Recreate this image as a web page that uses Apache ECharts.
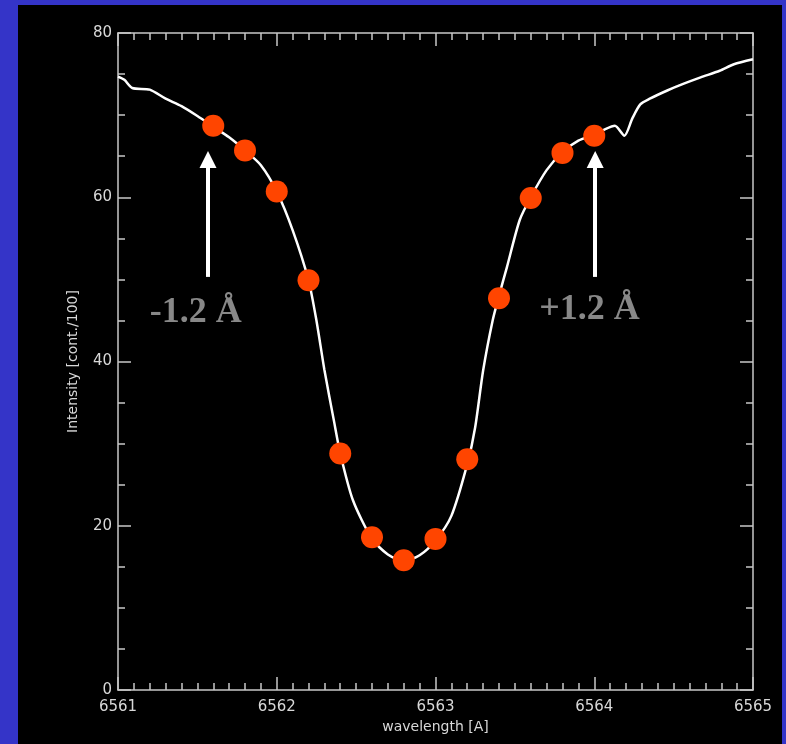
<!DOCTYPE html>
<html>
<head>
<meta charset="utf-8">
<script src="https://cdn.jsdelivr.net/npm/echarts@6/dist/echarts.min.js"></script>
<style>
  html, body { margin:0; padding:0; background:#3434c8; width:786px; height:744px; overflow:hidden; }
  #chart { position:absolute; left:18px; top:5px; width:764px; height:739px; background:#000; }
</style>
</head>
<body>
<div id="chart"></div>
<script>
// Profile line (wavelength in Å, intensity in cont./100)
var lineWavelength = [6561.00, 6561.04, 6561.09, 6561.20, 6561.30, 6561.40, 6561.50, 6561.60, 6561.70, 6561.80,
  6561.90, 6562.00, 6562.10, 6562.20, 6562.25, 6562.30, 6562.36, 6562.40, 6562.48, 6562.60,
  6562.70, 6562.80, 6562.90, 6563.00, 6563.10, 6563.20, 6563.25, 6563.30, 6563.36, 6563.40,
  6563.45, 6563.53, 6563.60, 6563.70, 6563.80, 6563.90, 6564.00, 6564.07, 6564.13, 6564.19,
  6564.24, 6564.29, 6564.35, 6564.46, 6564.56, 6564.67, 6564.79, 6564.88, 6565.00];
var lineIntensity = [74.7, 74.3, 73.3, 73.1, 72.0, 71.1, 69.9, 68.6, 67.3, 65.7,
  63.9, 60.7, 56.0, 49.9, 45.0, 39.0, 32.8, 28.8, 23.1, 18.4,
  16.5, 15.7, 16.4, 18.2, 21.2, 27.5, 32.0, 38.9, 45.0, 48.0,
  51.5, 57.2, 60.0, 63.3, 65.5, 66.9, 67.6, 68.3, 68.7, 67.5,
  69.6, 71.3, 72.0, 73.0, 73.8, 74.6, 75.4, 76.2, 76.8];

// Sampled points
var dotWavelength = [6561.6, 6561.8, 6562.0, 6562.2, 6562.4, 6562.6, 6562.8, 6563.0, 6563.2, 6563.4, 6563.6, 6563.8, 6564.0];
var dotIntensity = [68.7, 65.7, 60.7, 49.9, 28.8, 18.6, 15.8, 18.4, 28.1, 47.7, 59.9, 65.4, 67.5];

// Annotations
var annotationLabels = ['-1.2 Å', '+1.2 Å'];
var annotationWavelength = [6561.567, 6564.006];

var xTickLabels = ['6561', '6562', '6563', '6564', '6565'];
var yTickLabels = ['0', '20', '40', '60', '80'];

var lineData = lineWavelength.map(function (w, i) { return [w, lineIntensity[i]]; });
var dotData = dotWavelength.map(function (w, i) { return [w, dotIntensity[i]]; });

var axisColor = '#c8c8c8';
var labelFont = { color: '#d8d8d8', fontFamily: 'DejaVu Sans', fontSize: 15 };
var nameFont = { color: '#d8d8d8', fontFamily: 'DejaVu Sans', fontSize: 14 };

function xAxisCfg(pos, showLabel) {
  return {
    type: 'value', position: pos, min: 6561, max: 6565, interval: 1,
    axisLine: { show: true, onZero: false, lineStyle: { color: axisColor, width: 1.5 } },
    axisTick: { show: true, inside: true, length: 13, lineStyle: { color: axisColor, width: 1.5 } },
    minorTick: { show: true, splitNumber: 10, length: 7, lineStyle: { color: axisColor, width: 1.5 } },
    splitLine: { show: false },
    axisLabel: Object.assign({ show: showLabel, margin: 10,
      formatter: function (v) { return xTickLabels[Math.round(v - 6561)]; } }, labelFont),
    name: showLabel ? 'wavelength [A]' : '', nameLocation: 'middle', nameGap: 29,
    nameTextStyle: nameFont
  };
}
function yAxisCfg(pos, showLabel) {
  return {
    type: 'value', position: pos, min: 0, max: 80, interval: 20,
    axisLine: { show: true, onZero: false, lineStyle: { color: axisColor, width: 1.5 } },
    axisTick: { show: true, inside: true, length: 13, lineStyle: { color: axisColor, width: 1.5 } },
    minorTick: { show: true, splitNumber: 4, length: 7, lineStyle: { color: axisColor, width: 1.5 } },
    splitLine: { show: false },
    axisLabel: Object.assign({ show: showLabel, margin: 6,
      formatter: function (v) { return yTickLabels[Math.round(v / 20)]; } }, labelFont),
    name: showLabel ? 'Intensity [cont./100]' : '', nameLocation: 'middle', nameGap: 38,
    nameTextStyle: nameFont
  };
}

var chart = echarts.init(document.getElementById('chart'), null, { renderer: 'canvas' });
chart.setOption({
  backgroundColor: '#000',
  animation: false,
  grid: { left: 100, top: 28, width: 635, height: 657, containLabel: false },
  xAxis: [xAxisCfg('bottom', true), xAxisCfg('top', false)],
  yAxis: [yAxisCfg('left', true), yAxisCfg('right', false)],
  series: [
    {
      type: 'line', xAxisIndex: 0, yAxisIndex: 0, data: lineData,
      smooth: 0.25, showSymbol: false, symbol: 'none',
      lineStyle: { color: '#ffffff', width: 2.5 },
      z: 2,
      markLine: {
        silent: true, animation: false,
        symbol: ['none', 'triangle'], symbolSize: 17,
        label: { show: false },
        lineStyle: { color: '#ffffff', width: 4, type: 'solid' },
        itemStyle: { color: '#ffffff' },
        emphasis: { disabled: true },
        data: annotationWavelength.map(function (w) {
          return [{ coord: [w, 50.3] }, { coord: [w, 64.6] }];
        })
      },
      markPoint: {
        silent: true, animation: false,
        symbol: 'circle', symbolSize: 1,
        itemStyle: { color: 'rgba(0,0,0,0)' },
        label: { show: true, position: 'inside', color: '#888888', fontFamily: 'Liberation Serif',
          fontWeight: 'bold', fontSize: 36, formatter: function (p) { return p.name; } },
        data: [
          { name: annotationLabels[0], coord: [6561.49, 46.0] },
          { name: annotationLabels[1], coord: [6563.97, 46.3] }
        ]
      }
    },
    {
      type: 'scatter', xAxisIndex: 0, yAxisIndex: 0, data: dotData,
      symbol: 'circle', symbolSize: 22,
      itemStyle: { color: '#ff4500', opacity: 1 },
      z: 5
    }
  ]
});
</script>
</body>
</html>
